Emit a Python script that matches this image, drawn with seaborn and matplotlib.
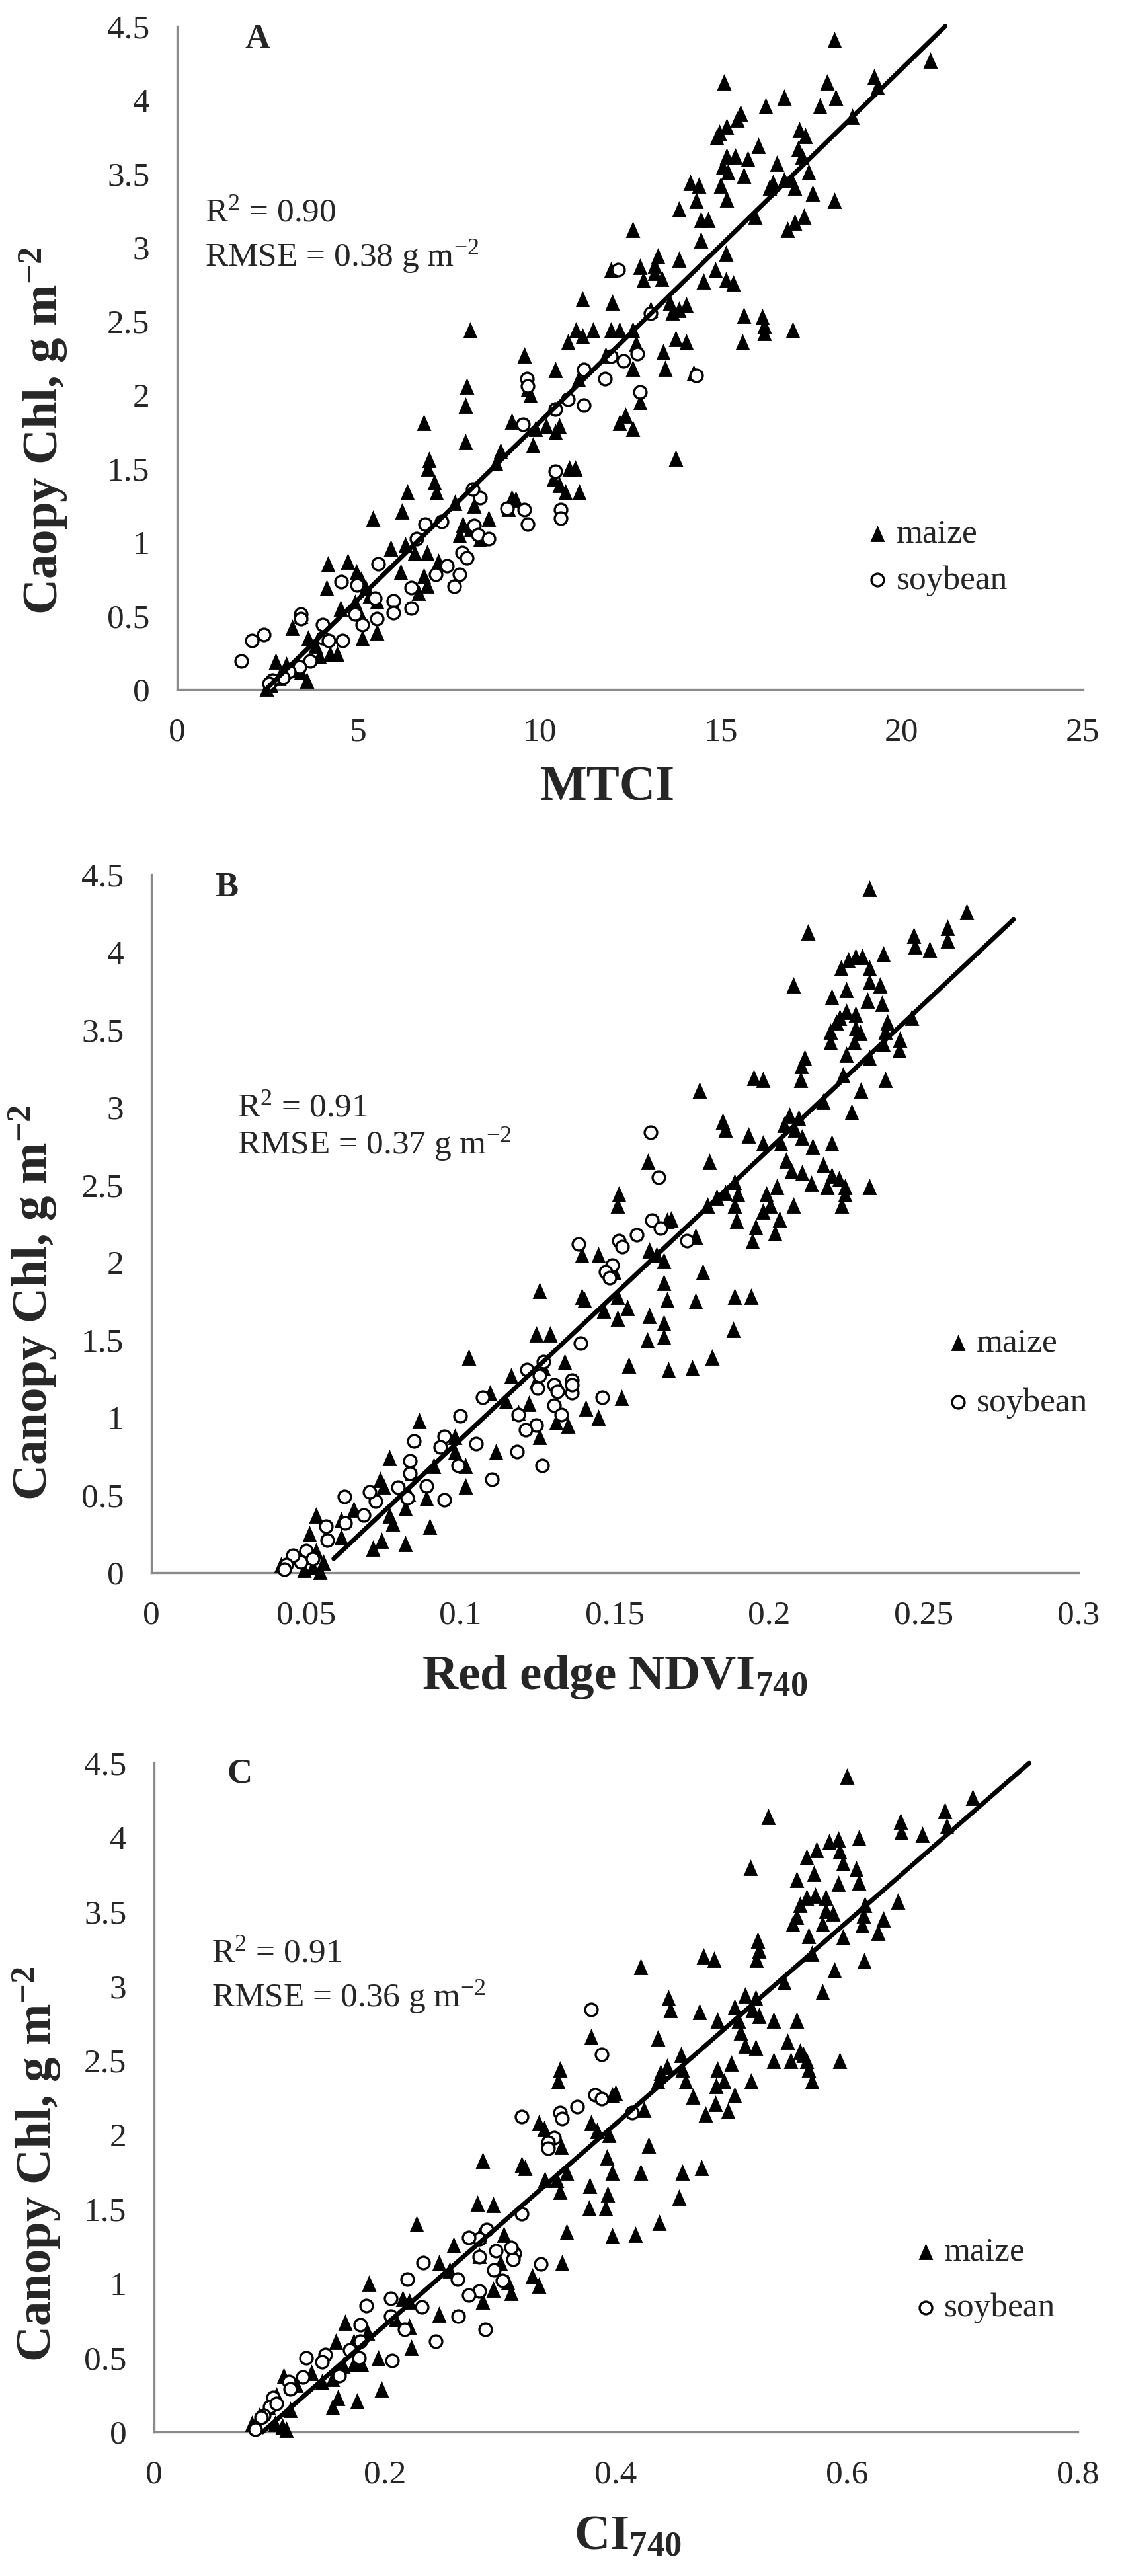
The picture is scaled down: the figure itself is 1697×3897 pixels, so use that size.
import matplotlib
matplotlib.use("Agg")
import matplotlib.pyplot as plt
import seaborn as sns

sns.set_style("white")
plt.rcParams["font.family"] = ["Liberation Serif", "DejaVu Serif"]
plt.rcParams["mathtext.fontset"] = "custom"
plt.rcParams["mathtext.rm"] = "Liberation Serif"
plt.rcParams["mathtext.it"] = "Liberation Serif:italic"
plt.rcParams["mathtext.bf"] = "Liberation Serif:bold"

# ---- panel A : MTCI ----
a_maize = [
    (18.14, 4.41), (20.78, 4.27), (19.23, 4.16), (19.33, 4.09), (17.94, 4.12), (18.18, 4.02),
    (15.10, 4.12), (17.73, 3.96), (16.75, 4.02), (16.25, 3.96), (18.64, 3.89), (15.55, 3.91),
    (15.45, 3.87), (14.96, 3.78), (15.16, 3.82), (14.90, 3.75), (17.18, 3.80), (17.34, 3.76),
    (16.05, 3.69), (17.14, 3.67), (15.16, 3.62), (15.40, 3.62), (15.75, 3.60), (16.55, 3.57),
    (17.24, 3.62), (15.05, 3.55), (15.20, 3.51), (15.64, 3.49), (17.43, 3.51), (16.44, 3.44),
    (16.75, 3.46), (16.95, 3.46), (16.35, 3.41), (17.05, 3.41), (14.16, 3.44), (14.40, 3.42),
    (15.00, 3.42), (15.16, 3.33), (17.54, 3.37), (18.14, 3.32), (14.32, 3.32), (13.86, 3.26),
    (15.95, 3.21), (17.30, 3.21), (17.04, 3.17), (14.46, 3.19), (14.66, 3.19), (12.57, 3.12),
    (16.85, 3.12), (14.46, 3.05), (15.15, 2.96), (13.27, 2.94), (13.86, 2.92), (13.17, 2.88),
    (12.77, 2.87), (14.86, 2.85), (13.17, 2.83), (11.97, 2.85), (14.52, 2.77), (15.15, 2.78),
    (15.35, 2.76), (12.86, 2.78), (13.37, 2.79), (11.18, 2.65), (13.60, 2.63), (13.86, 2.58),
    (14.06, 2.61), (12.00, 2.63), (13.07, 2.58), (13.66, 2.56), (15.64, 2.54), (16.15, 2.53),
    (16.20, 2.47), (12.57, 2.44), (16.99, 2.44), (11.00, 2.44), (11.48, 2.44), (11.97, 2.44),
    (12.20, 2.44), (16.20, 2.42), (11.18, 2.40), (8.09, 2.44), (13.76, 2.38), (10.78, 2.36),
    (14.06, 2.36), (15.60, 2.36), (12.67, 2.35), (13.41, 2.29), (11.83, 2.27), (9.59, 2.27),
    (12.57, 2.18), (13.47, 2.18), (10.44, 2.17), (14.26, 2.15), (11.08, 2.11), (9.68, 2.04),
    (7.99, 2.06), (7.96, 1.93), (9.74, 2.00), (12.77, 1.95), (12.37, 1.86), (12.20, 1.81),
    (12.57, 1.77), (6.80, 1.81), (9.23, 1.82), (9.90, 1.77), (10.18, 1.79), (10.54, 1.79),
    (10.44, 1.75), (9.82, 1.66), (7.96, 1.68), (8.93, 1.62), (13.76, 1.57), (8.79, 1.54),
    (6.96, 1.56), (6.92, 1.50), (10.82, 1.50), (10.98, 1.50), (10.38, 1.43), (10.54, 1.39),
    (7.10, 1.41), (6.36, 1.34), (7.16, 1.34), (10.72, 1.34), (11.10, 1.34), (9.23, 1.30),
    (9.35, 1.29), (7.66, 1.27), (8.20, 1.25), (9.15, 1.23), (5.41, 1.16), (6.20, 1.21),
    (8.60, 1.16), (7.89, 1.12), (8.10, 1.09), (7.80, 1.05), (8.36, 1.02), (5.90, 0.96),
    (6.30, 0.98), (6.56, 0.93), (6.90, 0.93), (4.71, 0.87), (7.20, 0.87), (6.17, 0.80),
    (4.16, 0.85), (4.95, 0.80), (6.80, 0.77), (6.90, 0.71), (6.66, 0.66), (5.07, 0.75),
    (5.21, 0.69), (4.12, 0.69), (5.31, 0.64), (5.51, 0.60), (4.91, 0.59), (4.51, 0.55),
    (5.01, 0.53), (3.42, 0.50), (3.18, 0.42), (5.11, 0.35), (5.51, 0.39), (3.62, 0.35),
    (3.82, 0.30), (4.22, 0.24), (4.41, 0.24), (3.92, 0.23), (2.72, 0.19), (3.02, 0.17),
    (3.22, 0.14), (3.42, 0.12), (3.58, 0.06), (2.59, 0.03), (2.47, 0.01), (2.82, 0.08),
]
a_soy = [
    (12.17, 2.85), (12.31, 2.23), (12.71, 2.28), (11.81, 2.11), (11.22, 2.17), (11.97, 2.26),
    (13.07, 2.55), (14.32, 2.13), (12.77, 2.02), (11.22, 1.93), (10.78, 1.97), (10.44, 1.90),
    (9.55, 1.80), (9.65, 2.11), (9.68, 2.06), (10.44, 1.48), (8.36, 1.30), (8.16, 1.36),
    (8.20, 1.11), (8.30, 1.05), (8.60, 1.02), (9.11, 1.23), (9.59, 1.22), (9.68, 1.12),
    (10.58, 1.22), (10.58, 1.16), (7.86, 0.93), (7.99, 0.89), (7.80, 0.78), (7.64, 0.70),
    (7.44, 0.84), (7.14, 0.78), (7.30, 1.14), (6.84, 1.12), (6.60, 1.02), (6.46, 0.69),
    (6.46, 0.55), (5.97, 0.60), (5.97, 0.52), (5.55, 0.85), (5.45, 0.62), (5.51, 0.48),
    (5.11, 0.44), (4.91, 0.51), (4.53, 0.73), (4.97, 0.71), (4.57, 0.33), (4.02, 0.44),
    (4.02, 0.35), (3.42, 0.51), (3.42, 0.48), (3.66, 0.19), (3.38, 0.15), (3.08, 0.12),
    (2.92, 0.08), (2.63, 0.06), (2.53, 0.04), (2.39, 0.37), (2.07, 0.33), (1.77, 0.19),
    (4.18, 0.33),
]
a_fit = [(2.45, 0.0), (21.2, 4.5)]

# ---- panel B : red edge NDVI740 ----
b_maize = [
    (0.2323, 4.41), (0.2638, 4.26), (0.2576, 4.16), (0.2576, 4.08), (0.2468, 4.11), (0.2472, 4.04),
    (0.2518, 4.02), (0.2124, 4.13), (0.2369, 3.99), (0.2300, 3.97), (0.2278, 3.97), (0.2255, 3.95),
    (0.2232, 3.90), (0.2323, 3.90), (0.2078, 3.79), (0.2323, 3.81), (0.2358, 3.79), (0.2248, 3.76),
    (0.2202, 3.71), (0.2365, 3.67), (0.2317, 3.69), (0.2250, 3.62), (0.2278, 3.60), (0.2227, 3.58),
    (0.2216, 3.55), (0.2381, 3.55), (0.2461, 3.58), (0.2197, 3.49), (0.2278, 3.51), (0.2294, 3.48),
    (0.2376, 3.49), (0.2422, 3.44), (0.2197, 3.42), (0.2275, 3.42), (0.2369, 3.41), (0.2420, 3.37),
    (0.2248, 3.34), (0.2115, 3.32), (0.2323, 3.32), (0.2104, 3.27), (0.2239, 3.21), (0.2101, 3.18),
    (0.1950, 3.19), (0.1979, 3.18), (0.2376, 3.18), (0.2296, 3.11), (0.1773, 3.11), (0.2174, 3.04),
    (0.2266, 2.97), (0.2064, 2.95), (0.2094, 2.93), (0.1849, 2.91), (0.2048, 2.89), (0.1858, 2.86),
    (0.1933, 2.82), (0.2083, 2.86), (0.2106, 2.81), (0.1979, 2.77), (0.2037, 2.77), (0.2140, 2.75),
    (0.2202, 2.77), (0.2055, 2.66), (0.1807, 2.65), (0.2174, 2.63), (0.2071, 2.59), (0.2106, 2.58),
    (0.1608, 2.65), (0.2202, 2.56), (0.2225, 2.54), (0.2025, 2.49), (0.2136, 2.51), (0.2186, 2.49),
    (0.2245, 2.49), (0.2323, 2.49), (0.1888, 2.52), (0.1858, 2.45), (0.1899, 2.44), (0.1830, 2.42),
    (0.1991, 2.44), (0.2245, 2.44), (0.2234, 2.37), (0.1514, 2.44), (0.1509, 2.37), (0.1800, 2.37),
    (0.1888, 2.37), (0.2002, 2.37), (0.2078, 2.37), (0.1979, 2.33), (0.2032, 2.28), (0.1894, 2.27),
    (0.1956, 2.23), (0.2018, 2.19), (0.1670, 2.27), (0.1681, 2.28), (0.1761, 2.17), (0.1612, 2.08),
    (0.1635, 2.05), (0.1945, 2.14), (0.1394, 2.05), (0.1447, 2.05), (0.1658, 2.01), (0.1498, 1.94),
    (0.1784, 1.94), (0.1658, 1.87), (0.1509, 1.78), (0.1394, 1.78), (0.1401, 1.76), (0.1257, 1.82),
    (0.1761, 1.75), (0.1670, 1.76), (0.1888, 1.78), (0.1940, 1.78), (0.1463, 1.69), (0.1541, 1.71),
    (0.1612, 1.66), (0.1509, 1.64), (0.1658, 1.61), (0.1883, 1.57), (0.1245, 1.54), (0.1291, 1.54),
    (0.1658, 1.52), (0.1606, 1.50), (0.1544, 1.34), (0.1814, 1.39), (0.1674, 1.31), (0.1750, 1.32),
    (0.1028, 1.39), (0.1337, 1.36), (0.1268, 1.32), (0.1165, 1.27), (0.1245, 1.24), (0.1319, 1.20),
    (0.1096, 1.16), (0.1147, 1.11), (0.1521, 1.13), (0.1222, 1.09), (0.1406, 1.06), (0.1188, 1.03),
    (0.1447, 1.00), (0.1310, 0.97), (0.1349, 0.95), (0.0867, 0.98), (0.0982, 0.88), (0.1257, 0.88),
    (0.1115, 0.78), (0.0982, 0.78), (0.0771, 0.74), (0.1016, 0.69), (0.0913, 0.69), (0.0844, 0.65),
    (0.0741, 0.60), (0.0752, 0.56), (0.1016, 0.56), (0.0833, 0.51), (0.0890, 0.48), (0.0901, 0.30),
    (0.0821, 0.42), (0.0771, 0.37), (0.0782, 0.32), (0.0654, 0.41), (0.0615, 0.34), (0.0534, 0.37),
    (0.0615, 0.23), (0.0745, 0.21), (0.0821, 0.19), (0.0718, 0.16), (0.0511, 0.25), (0.0534, 0.14),
    (0.0557, 0.07), (0.0523, 0.04), (0.0495, 0.02), (0.0420, 0.05), (0.0546, 0.01),
]
b_soy = [
    (0.1615, 2.84), (0.1642, 2.55), (0.1619, 2.27), (0.1647, 2.22), (0.1734, 2.14), (0.1571, 2.18),
    (0.1514, 2.14), (0.1523, 2.10), (0.1383, 2.12), (0.1491, 1.98), (0.1471, 1.94), (0.1482, 1.90),
    (0.1388, 1.48), (0.1459, 1.13), (0.1360, 1.24), (0.1360, 1.16), (0.1360, 1.21), (0.1303, 1.21),
    (0.1303, 1.08), (0.1326, 1.02), (0.1314, 1.17), (0.1268, 1.36), (0.1257, 1.27), (0.1250, 1.19),
    (0.1216, 1.31), (0.1245, 0.95), (0.1211, 0.92), (0.1264, 0.69), (0.1188, 1.02), (0.1183, 0.78),
    (0.1103, 0.60), (0.1073, 1.13), (0.1050, 0.83), (0.1000, 1.01), (0.0993, 0.69), (0.0947, 0.88),
    (0.0936, 0.81), (0.0947, 0.47), (0.0890, 0.56), (0.0849, 0.85), (0.0837, 0.72), (0.0837, 0.64),
    (0.0828, 0.48), (0.0798, 0.55), (0.0725, 0.46), (0.0706, 0.52), (0.0688, 0.37), (0.0626, 0.49),
    (0.0628, 0.32), (0.0564, 0.30), (0.0569, 0.21), (0.0500, 0.14), (0.0484, 0.07), (0.0459, 0.11),
    (0.0436, 0.05), (0.0431, 0.02), (0.0523, 0.09),
]
b_fit = [(0.059, 0.09), (0.279, 4.21)]

# ---- panel C : CI740 ----
c_maize = [
    (0.6000, 4.41), (0.7091, 4.27), (0.6848, 4.18), (0.6867, 4.08), (0.6467, 4.11), (0.6473, 4.04),
    (0.6655, 4.02), (0.5321, 4.14), (0.6103, 4.00), (0.5927, 3.99), (0.5848, 3.97), (0.5739, 3.92),
    (0.5655, 3.87), (0.5939, 3.91), (0.5164, 3.80), (0.5970, 3.83), (0.6079, 3.79), (0.5715, 3.76),
    (0.5564, 3.72), (0.6103, 3.70), (0.5927, 3.69), (0.5727, 3.61), (0.5818, 3.60), (0.5655, 3.60),
    (0.5594, 3.55), (0.6158, 3.55), (0.6442, 3.57), (0.5564, 3.47), (0.5818, 3.51), (0.5879, 3.49),
    (0.6145, 3.48), (0.6315, 3.45), (0.5533, 3.42), (0.5788, 3.42), (0.6133, 3.41), (0.6273, 3.36),
    (0.5667, 3.34), (0.5230, 3.31), (0.5970, 3.33), (0.5242, 3.24), (0.5697, 3.22), (0.5218, 3.18),
    (0.4758, 3.20), (0.4848, 3.18), (0.6152, 3.17), (0.5891, 3.11), (0.4212, 3.13), (0.5455, 3.03),
    (0.5788, 2.96), (0.5121, 2.94), (0.5212, 2.92), (0.4455, 2.92), (0.5030, 2.86), (0.4474, 2.84),
    (0.4727, 2.83), (0.5182, 2.84), (0.5242, 2.80), (0.4879, 2.77), (0.5061, 2.77), (0.5364, 2.77),
    (0.5564, 2.77), (0.5079, 2.69), (0.4364, 2.65), (0.5485, 2.63), (0.5121, 2.60), (0.5212, 2.59),
    (0.3788, 2.66), (0.5594, 2.56), (0.5624, 2.54), (0.5000, 2.48), (0.5364, 2.50), (0.5515, 2.50),
    (0.5655, 2.50), (0.5939, 2.50), (0.4564, 2.54), (0.4442, 2.46), (0.4576, 2.44), (0.4388, 2.42),
    (0.4879, 2.44), (0.5667, 2.44), (0.5697, 2.36), (0.3515, 2.44), (0.3497, 2.36), (0.4364, 2.36),
    (0.4606, 2.36), (0.4939, 2.36), (0.5170, 2.36), (0.4867, 2.33), (0.5030, 2.27), (0.4667, 2.26),
    (0.4861, 2.21), (0.4970, 2.16), (0.3970, 2.27), (0.3999, 2.28), (0.4242, 2.17), (0.3788, 2.08),
    (0.3836, 2.03), (0.4776, 2.14), (0.3333, 2.08), (0.3376, 2.04), (0.3939, 2.00), (0.3527, 1.92),
    (0.4285, 1.93), (0.3921, 1.85), (0.3576, 1.75), (0.3182, 1.80), (0.3212, 1.78), (0.2848, 1.83),
    (0.4576, 1.75), (0.4212, 1.75), (0.4739, 1.78), (0.3970, 1.75), (0.3382, 1.70), (0.3485, 1.70),
    (0.3776, 1.66), (0.3515, 1.62), (0.3927, 1.60), (0.4545, 1.58), (0.2800, 1.54), (0.2939, 1.53),
    (0.3770, 1.51), (0.3909, 1.51), (0.3576, 1.35), (0.3970, 1.32), (0.4170, 1.33), (0.4376, 1.41),
    (0.2273, 1.40), (0.3030, 1.33), (0.2818, 1.32), (0.2594, 1.26), (0.2818, 1.19), (0.3000, 1.14),
    (0.2467, 1.14), (0.3533, 1.14), (0.2558, 1.09), (0.3273, 1.05), (0.3061, 1.01), (0.3333, 0.99),
    (0.2939, 0.96), (0.3091, 0.94), (0.1861, 1.00), (0.2152, 0.90), (0.2848, 0.88), (0.2212, 0.88),
    (0.2091, 0.76), (0.1655, 0.74), (0.2467, 0.79), (0.2212, 0.71), (0.1848, 0.67), (0.1576, 0.61),
    (0.1727, 0.61), (0.2230, 0.57), (0.1939, 0.50), (0.1800, 0.46), (0.1727, 0.46), (0.1970, 0.29),
    (0.1636, 0.45), (0.1545, 0.36), (0.1455, 0.34), (0.1364, 0.40), (0.1121, 0.38), (0.1594, 0.23),
    (0.1758, 0.21), (0.1545, 0.17), (0.1230, 0.32), (0.1061, 0.25), (0.0988, 0.17), (0.0909, 0.11),
    (0.1048, 0.06), (0.1109, 0.04), (0.1145, 0.02), (0.0848, 0.06), (0.1182, 0.15),
]
c_soy = [
    (0.3788, 2.84), (0.3879, 2.54), (0.3818, 2.27), (0.3879, 2.24), (0.3667, 2.19), (0.3515, 2.15),
    (0.3533, 2.11), (0.3182, 2.12), (0.4139, 2.15), (0.3467, 1.98), (0.3412, 1.95), (0.3412, 1.91),
    (0.3182, 1.47), (0.3352, 1.13), (0.3121, 1.20), (0.3109, 1.16), (0.3091, 1.24), (0.2958, 1.22),
    (0.2945, 1.09), (0.3018, 1.02), (0.2879, 1.36), (0.2818, 1.30), (0.2818, 1.18), (0.2727, 1.31),
    (0.2818, 0.95), (0.2727, 0.92), (0.2867, 0.69), (0.2630, 1.03), (0.2636, 0.78), (0.2442, 0.61),
    (0.2333, 1.14), (0.2321, 0.84), (0.2194, 1.03), (0.2170, 0.69), (0.2048, 0.90), (0.2061, 0.48),
    (0.2048, 0.78), (0.1836, 0.85), (0.1788, 0.72), (0.1788, 0.61), (0.1776, 0.50), (0.1697, 0.55),
    (0.1485, 0.52), (0.1455, 0.47), (0.1315, 0.50), (0.1291, 0.37), (0.1170, 0.34), (0.1182, 0.29),
    (0.1030, 0.23), (0.1000, 0.17), (0.0952, 0.11), (0.0879, 0.02), (0.0927, 0.10), (0.1061, 0.19),
    (0.1606, 0.38),
]
c_fit = [(0.094, 0.0), (0.758, 4.5)]

panels = [
    dict(letter="A", maize=a_maize, soy=a_soy, fit=a_fit, xmax=25, xstep=5,
         xlabel="MTCI", ylabel=r"Caopy Chl, g m$^{\mathbf{-2}}$",
         r2="0.90", rmse="0.38",
         rect=[0.1579, 0.7324, 0.8073, 0.2574],
         letter_pos=(0.089, 0.98), stat_pos=(0.031, 0.706, 0.639),
         leg_pos=(0.764, 0.199), leg_space=0.45, ylab_pos=(-0.148, 0.39), xlab_pos=(0.475, -0.115)),
    dict(letter="B", maize=b_maize, soy=b_soy, fit=b_fit, xmax=0.3, xstep=0.05,
         xlabel=r"Red edge NDVI$_{\mathbf{740}}$", ylabel=r"Canopy Chl, g m$^{\mathbf{-2}}$",
         r2="0.91", rmse="0.37",
         rect=[0.1349, 0.3895, 0.8262, 0.2710],
         letter_pos=(0.081, 0.981), stat_pos=(0.093, 0.654, 0.600),
         leg_pos=(0.861, 0.286), leg_space=0.85, ylab_pos=(-0.128, 0.387), xlab_pos=(0.5, -0.115)),
    dict(letter="C", maize=c_maize, soy=c_soy, fit=c_fit, xmax=0.8, xstep=0.2,
         xlabel=r"CI$_{\mathbf{740}}$", ylabel=r"Canopy Chl, g m$^{\mathbf{-2}}$",
         r2="0.91", rmse="0.36",
         rect=[0.1373, 0.0559, 0.8232, 0.2597],
         letter_pos=(0.093, 0.984), stat_pos=(0.062, 0.703, 0.636),
         leg_pos=(0.826, 0.227), leg_space=0.73, ylab_pos=(-0.127, 0.40), xlab_pos=(0.5125, -0.1235)),
]

# slightly tall triangle, like the original markers
tri = [(0, 1), (-0.88, -1), (0.88, -1)]

fig = plt.figure(figsize=(16.97, 38.97), dpi=100)

for p in panels:
    ax = fig.add_axes(p["rect"])
    mx, my = zip(*p["maize"])
    sx, sy = zip(*p["soy"])
    fx, fy = zip(*p["fit"])

    sns.scatterplot(x=list(mx), y=list(my), marker=tri, color="black", s=320,
                    linewidth=0, label="maize", clip_on=False, zorder=3, ax=ax)
    sns.scatterplot(x=list(sx), y=list(sy), marker="o", color="black", facecolor="white",
                    edgecolor="black", s=185, linewidth=2.4, label="soybean",
                    clip_on=False, zorder=4, ax=ax)
    sns.lineplot(x=list(fx), y=list(fy), color="black", linewidth=5, zorder=5,
                 clip_on=False, ax=ax)

    ax.set_xlim(0, p["xmax"])
    ax.set_ylim(0, 4.5)
    n = int(round(p["xmax"] / p["xstep"]))
    xt = [round(i * p["xstep"], 3) for i in range(n + 1)]
    yt = [i * 0.5 for i in range(10)]
    ax.set_xticks(xt)
    ax.set_xticklabels([f"{v:g}" for v in xt])
    ax.set_yticks(yt)
    ax.set_yticklabels([f"{v:g}" for v in yt])
    ax.tick_params(axis="both", length=0, labelsize=37)
    ax.tick_params(axis="x", pad=30)
    ax.tick_params(axis="y", pad=30)

    for side in ["top", "right"]:
        ax.spines[side].set_visible(False)
    for side in ["left", "bottom"]:
        ax.spines[side].set_color("#8a8a8a")
        ax.spines[side].set_linewidth(2.4)

    ax.set_xlabel(p["xlabel"], fontsize=54, fontweight="bold")
    ax.xaxis.set_label_coords(*p["xlab_pos"])
    ax.set_ylabel(p["ylabel"], fontsize=54, fontweight="bold")
    ax.yaxis.label.set_va("center")
    ax.yaxis.set_label_coords(*p["ylab_pos"])

    ax.text(p["letter_pos"][0], p["letter_pos"][1], p["letter"], transform=ax.transAxes,
            fontsize=38, fontweight="bold", ha="center", va="center")
    x0, y1, y2 = p["stat_pos"]
    ax.text(x0, y1, "R$^{2}$ = " + p["r2"], transform=ax.transAxes, fontsize=37,
            ha="left", va="baseline")
    ax.text(x0, y2, "RMSE = " + p["rmse"] + " g m$^{-2}$", transform=ax.transAxes,
            fontsize=37, ha="left", va="baseline")

    handles, labels = ax.get_legend_handles_labels()
    ax.legend(handles[:2], labels[:2], loc="center left", bbox_to_anchor=p["leg_pos"],
              frameon=False, fontsize=37, borderpad=0, borderaxespad=0,
              handlelength=0.5, handletextpad=0.3, labelspacing=p["leg_space"],
              scatterpoints=1)

fig.savefig("out.png", dpi=100)
